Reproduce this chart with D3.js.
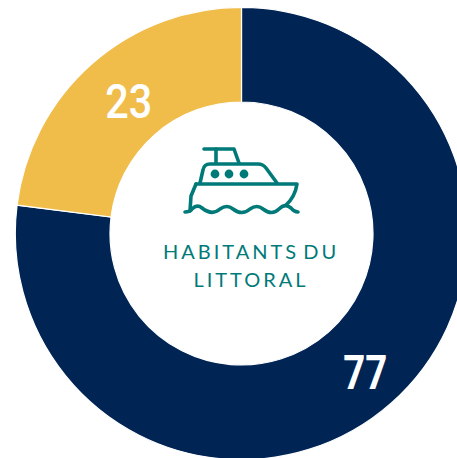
<!DOCTYPE html>
<html>
<head>
<meta charset="utf-8">
<style>html,body{margin:0;padding:0;background:#fff;overflow:hidden}svg{display:block}</style>
<script src="https://cdn.jsdelivr.net/npm/d3@7"></script>
</head>
<body>
<svg id="chart" width="457" height="458"></svg>
<script>
const categories = ["Habitants du littoral", "Autres"];
const values = [77, 23];
const sliceColors = ["#002555", "#F0BD4B"];
const titleLines = ["HABITANTS DU", "LITTORAL"];

const svg = d3.select("#chart");
const cx = 241.5, cy = 233.5, outer = 226.2, inner = 131.5;
const root = svg.append("g").attr("transform", `translate(${cx},${cy})`);
const pie = d3.pie().sort(null).value(d => d)(values);
const arc = d3.arc().innerRadius(inner).outerRadius(outer);

root.selectAll("path.slice").data(pie).join("path")
  .attr("class", "slice")
  .attr("d", arc)
  .attr("fill", (d, i) => sliceColors[i])
  .attr("stroke", "#fff")
  .attr("stroke-width", 1.2);

const labelStyle = [
  {dx: 5.5, dy: 21, w: 44, weight: 700},
  {dx: 5.5, dy: 19, w: 47, weight: 500}
];
root.selectAll("text.val").data(pie).join("text")
  .attr("class", "val")
  .attr("x", (d, i) => arc.centroid(d)[0] + labelStyle[i].dx)
  .attr("y", (d, i) => arc.centroid(d)[1] + labelStyle[i].dy)
  .attr("text-anchor", "middle")
  .attr("font-family", "Roboto, sans-serif")
  .attr("font-size", 48)
  .attr("font-weight", (d, i) => labelStyle[i].weight)
  .attr("fill", "#fff")
  .attr("textLength", (d, i) => labelStyle[i].w)
  .attr("lengthAdjust", "spacingAndGlyphs")
  .text(d => d.data);

const teal = "#007A78";
const boat = svg.append("g").attr("fill", "none").attr("stroke", teal)
  .attr("stroke-width", 3.6).attr("stroke-linecap", "round").attr("stroke-linejoin", "round");
[
  "M204,149 L234,149 L239,163",
  "M216,149 L216,163",
  "M200,183 L203,170 Q204,164 210,164 L258,164 Q263,164 266,168 L277,183",
  "M196,184 L297,184 Q295,197 286,205",
  "M196,184 L191,196 L190,211",
  "M185,212 Q190,212 192,209 Q197,204 202,208 Q212,216 220,209 Q227,204 233,209 Q242,216 250,209 Q257,204 263,209 Q272,216 279,209 Q285,203 291,208 Q294,212 298,212"
].forEach(d => boat.append("path").attr("d", d));
[215, 229, 244].forEach(x => svg.append("circle").attr("cx", x).attr("cy", 174).attr("r", 4.4).attr("fill", teal));

svg.selectAll("text.title").data(titleLines).join("text")
  .attr("class", "title")
  .attr("x", 251)
  .attr("y", (d, i) => 259 + i * 28)
  .attr("text-anchor", "middle")
  .attr("font-family", "Lato, sans-serif")
  .attr("font-size", 20)
  .attr("letter-spacing", 3)
  .attr("word-spacing", -4)
  .attr("fill", teal)
  .text(d => d);
</script>
</body>
</html>
